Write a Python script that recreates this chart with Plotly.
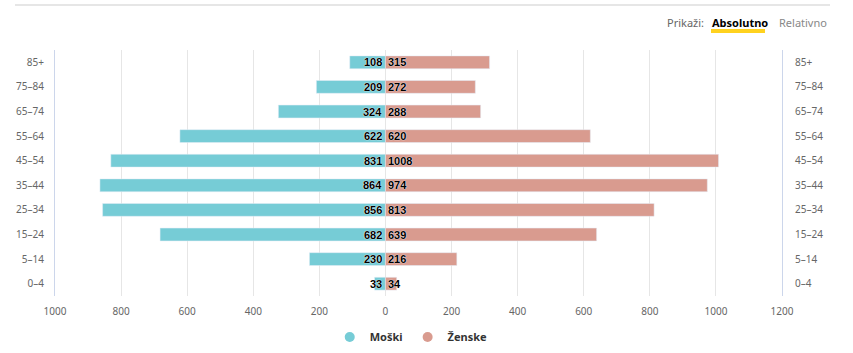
import plotly.graph_objects as go

categories = ["0-4", "5-14", "15-24", "25-34", "35-44", "45-54", "55-64", "65-74", "75-84", "85+"]
tick_labels = ["0–4", "5–14", "15–24", "25–34", "35–44", "45–54", "55–64", "65–74", "75–84", "85+"]
moski = [33, 230, 682, 856, 864, 831, 622, 324, 209, 108]
zenske = [34, 216, 639, 813, 974, 1008, 620, 288, 272, 315]
x_ticks = [-1000, -800, -600, -400, -200, 0, 200, 400, 600, 800, 1000, 1200]

C_M = "#76CCD6"
C_Z = "#D99B8F"
W, H = 853, 353
L, R, T, B = 55, 71, 50, 57

def px(x):
    return (x - L) / (W - L - R)

def py(y):
    return (H - B - y) / (H - T - B)

fig = go.Figure()
fig.add_trace(go.Bar(y=categories, x=[-v for v in moski], orientation="h", marker_color=C_M,
                     name="Moški", showlegend=False, hoverinfo="skip"))
fig.add_trace(go.Bar(y=categories, x=zenske, orientation="h", marker_color=C_Z,
                     name="Ženske", showlegend=False, hoverinfo="skip"))
fig.add_trace(go.Bar(y=categories, x=[0] * len(categories), orientation="h", yaxis="y2",
                     showlegend=False, hoverinfo="skip", marker_opacity=0))
fig.add_trace(go.Scatter(x=[None], y=[None], mode="markers", name="Moški",
                         marker=dict(color=C_M, size=10, symbol="circle")))
fig.add_trace(go.Scatter(x=[None], y=[None], mode="markers", name="Ženske",
                         marker=dict(color=C_Z, size=10, symbol="circle")))

lab_font = dict(family="Liberation Sans", size=11, color="#000000", weight="bold",
                shadow="0px 0px 1px #fff, 0px 0px 1px #fff")
for c, m, z in zip(categories, moski, zenske):
    fig.add_annotation(x=0, y=c, text=str(m), showarrow=False, xanchor="right", xshift=-1,
                       font=lab_font)
    fig.add_annotation(x=0, y=c, text=str(z), showarrow=False, xanchor="left", xshift=1,
                       font=lab_font)

# top controls
fig.add_shape(type="line", xref="paper", yref="paper", x0=px(15), x1=px(830), y0=py(5), y1=py(5),
              line=dict(color="#E6E6E6", width=2))
fig.add_shape(type="rect", xref="paper", yref="paper", x0=px(711), x1=px(765), y0=py(33), y1=py(29),
              line_width=0, fillcolor="#FFD21F")
fig.add_annotation(xref="paper", yref="paper", x=px(706), y=py(23), text="Prikaži:", showarrow=False,
                   xanchor="right", yanchor="middle", font=dict(family="Noto Sans", size=11, color="#666666"))
fig.add_annotation(xref="paper", yref="paper", x=px(710), y=py(23), text="<b>Absolutno</b>", showarrow=False,
                   xanchor="left", yanchor="middle", font=dict(family="Noto Sans", size=11, color="#000000"))
fig.add_annotation(xref="paper", yref="paper", x=px(777), y=py(23), text="Relativno", showarrow=False,
                   xanchor="left", yanchor="middle", font=dict(family="Noto Sans", size=11, color="#888888"))

tick_font = dict(family="Noto Sans", size=10, color="#666666")
fig.update_layout(
    width=W, height=H, margin=dict(l=L, r=R, t=T, b=B, autoexpand=False),
    paper_bgcolor="white", plot_bgcolor="white",
    barmode="overlay", bargap=0.48,
    xaxis=dict(range=[-1000, 1200], tickvals=x_ticks, ticktext=[str(abs(v)) for v in x_ticks],
               showgrid=True, gridcolor="#E6E6E6", gridwidth=1, zeroline=True, zerolinecolor="#E6E6E6",
               zerolinewidth=1, showline=False, tickfont=tick_font, ticks="outside", ticklen=6,
               tickcolor="rgba(0,0,0,0)", fixedrange=True),
    yaxis=dict(type="category", categoryorder="array", categoryarray=categories, range=[-0.5, 9.5],
               tickvals=categories, ticktext=tick_labels, showline=True, linecolor="#CCD6EB",
               linewidth=1, showgrid=False, tickfont=tick_font, ticks="outside", ticklen=8,
               tickcolor="rgba(0,0,0,0)"),
    yaxis2=dict(type="category", categoryorder="array", categoryarray=categories, range=[-0.5, 9.5],
                tickvals=categories, ticktext=tick_labels, overlaying="y", side="right", showline=True,
                linecolor="#CCD6EB", linewidth=1, showgrid=False, tickfont=tick_font, ticks="outside",
                ticklen=10, tickcolor="rgba(0,0,0,0)"),
    legend=dict(orientation="h", x=0.49, xanchor="center", yref="container", y=(H - 337) / H,
                yanchor="middle", itemwidth=30,
                font=dict(family="Noto Sans", size=11, color="#333333", weight="bold")),
    showlegend=True,
)

fig.write_html("out.html")
